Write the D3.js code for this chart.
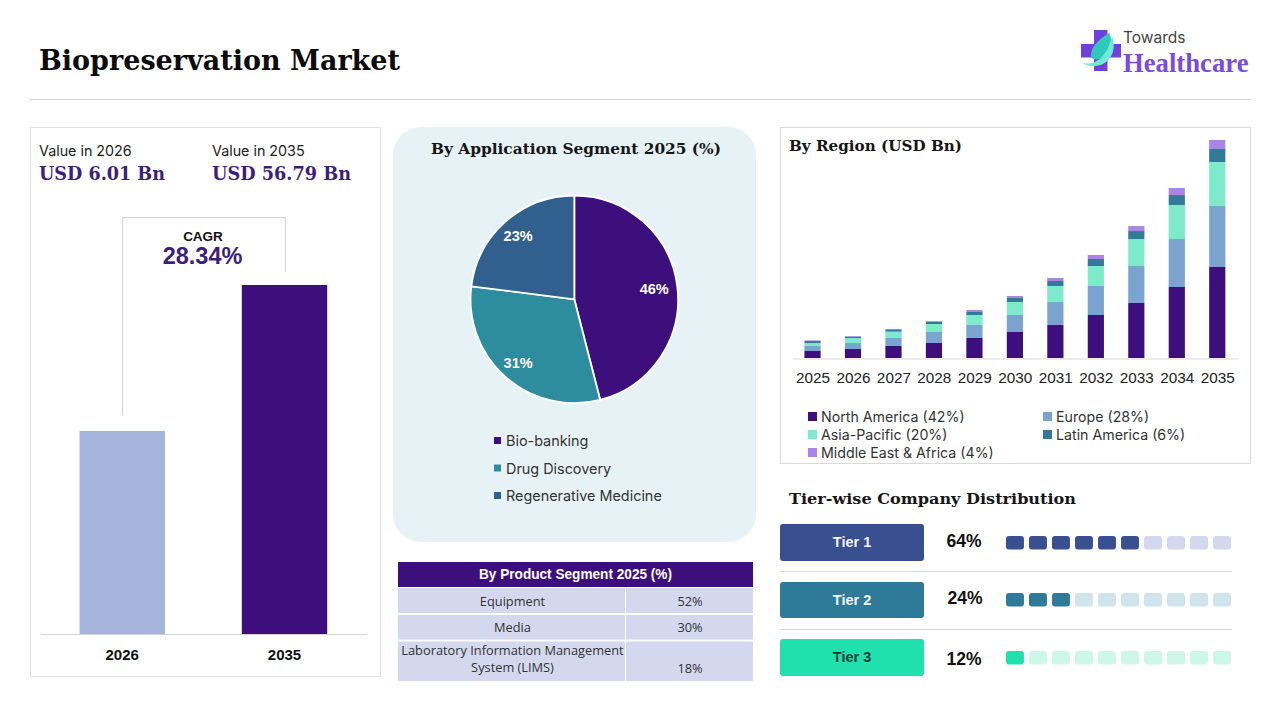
<!DOCTYPE html>
<html><head><meta charset="utf-8">
<script src="https://cdn.jsdelivr.net/npm/d3@7"></script>
<style>html,body{margin:0;padding:0;background:#fff}svg{display:block}</style>
</head><body><svg id="c" width="1280" height="720"></svg>
<script>
const years=["2025","2026","2027","2028","2029","2030","2031","2032","2033","2034","2035"];
const regions=["North America (42%)","Europe (28%)","Asia-Pacific (20%)","Latin America (6%)","Middle East & Africa (4%)"];
const regionColors=["#3D0F7D","#7BA3CF","#7DEBCB","#337A99","#A985E8"];
const northAmerica=[1.82,2.34,3.13,3.91,5.21,6.77,8.59,11.2,14.32,18.49,23.7];
const europe=[1.30,1.56,2.08,2.86,3.39,4.43,5.99,7.55,9.63,12.5,15.88];
const asiaPacific=[0.78,1.30,1.65,2.08,2.60,3.39,4.17,5.21,7.03,8.85,11.46];
const latinAmerica=[0.52,0.35,0.43,0.61,0.78,1.04,1.30,1.82,2.08,2.60,3.39];
const middleEast=[0.17,0.17,0.26,0.17,0.52,0.52,0.78,1.04,1.30,1.82,2.34];
const appLabels=["Bio-banking","Drug Discovery","Regenerative Medicine"];
const appValues=[46,31,23];
const appColors=["#3D0F7D","#2E8C9F","#315F8E"];
const valueYears=["2026","2035"];
const marketValues=[6.01,56.79];
const valueColors=["#A6B3DB","#3D0F7D"];
const productNames=[["Equipment"],["Media"],["Laboratory Information Management","System (LIMS)"]];
const productShares=["52%","30%","18%"];
const tiers=["Tier 1","Tier 2","Tier 3"];
const tierShares=[64,24,12];
const tierFilled=[6,3,1];
const tierColors=["#384F90","#307A99","#20E0AE"];
const tierLight=["#D3D8EE","#D0E4EE","#CDF7E9"];
const tierText=["#F2F4FA","#F2F8FA","#0E3D33"];

const SERIF="'DejaVu Serif',serif", SANS="'Open Sans','Noto Sans',sans-serif", ARIAL="'Liberation Sans',Arial,sans-serif", INTER="'Inter',sans-serif";
const svg=d3.select("#c");
function txt(g,x,y,s,o={}){const t=g.append("text").attr("x",x).attr("y",y).text(s)
 .attr("font-family",o.f||SANS).attr("font-size",o.s||14).attr("font-weight",o.w||400)
 .attr("fill",o.c||"#111").attr("text-anchor",o.a||"start");
 if(o.tl)t.attr("textLength",o.tl).attr("lengthAdjust","spacingAndGlyphs");
 return t;}

// header
txt(svg,39,69.5,"Biopreservation Market",{f:SERIF,s:27,w:700,c:"#0c0c0c",tl:361});
svg.append("line").attr("x1",30).attr("x2",1251).attr("y1",99.5).attr("y2",99.5).attr("stroke","#D6D6D6");
// logo
const logo=svg.append("g").attr("transform","translate(1081,30)");
logo.append("path").attr("fill","#7040DE").attr("d","M13 0H26.5V14H40V27.5H26.5V41H13V27.5H0V14H13Z");
logo.append("path").attr("fill","#2FC9BC").attr("d","M10 27C9 17 19 8 28.5 3C32 12 30 23 21 28C17 30 12 30 10 27Z");
logo.append("path").attr("fill","#6FEBD3").attr("d","M2 33C10 35 25 32 31 6C35 17 32 29 22 34C15 37 7 37 2 33Z");
txt(svg,1123,43,"Towards",{s:15.5,c:"#444",f:INTER});
txt(svg,1123,72,"Healthcare",{f:"'Liberation Serif',serif",s:26.7,w:700,c:"#7A4BE0"});

// left panel
svg.append("rect").attr("x",30.5).attr("y",127.5).attr("width",350).attr("height",549).attr("fill","#fff").attr("stroke","#E3E3E3");
txt(svg,39,156,"Value in 2026",{s:14.3,f:INTER,c:"#222"});
txt(svg,212,156,"Value in 2035",{s:14.3,f:INTER,c:"#222"});
txt(svg,39,180,"USD 6.01 Bn",{f:SERIF,s:17.6,w:700,c:"#3D1E7E",tl:126});
txt(svg,212,180,"USD 56.79 Bn",{f:SERIF,s:17.6,w:700,c:"#3D1E7E",tl:139});
svg.append("path").attr("fill","none").attr("stroke","#D4D4D4").attr("d","M122.5 415V217.5H285.5V272");
txt(svg,203,241,"CAGR",{f:ARIAL,s:13.5,w:700,c:"#111",a:"middle"});
txt(svg,202.5,264,"28.34%",{f:ARIAL,s:23.5,w:700,c:"#3D1E7E",a:"middle"});
const vxc=d3.scalePoint().domain(valueYears).range([122.2,284.5]);
const vh=d3.scaleLinear().domain([6.01,56.79]).range([203,349]);
svg.selectAll(".vb").data(valueYears).join("rect").attr("class","vb")
 .attr("x",d=>vxc(d)-42.7).attr("width",85.4)
 .attr("y",(d,i)=>634-vh(marketValues[i])).attr("height",(d,i)=>vh(marketValues[i]))
 .attr("fill",(d,i)=>valueColors[i]);
svg.append("line").attr("x1",41).attr("x2",367).attr("y1",634.5).attr("y2",634.5).attr("stroke","#D4D4D4");
valueYears.forEach(y=>txt(svg,vxc(y),660,y,{f:ARIAL,s:15,w:700,c:"#111",a:"middle"}));

// application panel
svg.append("rect").attr("x",393).attr("y",127).attr("width",363).attr("height",415).attr("rx",28).attr("fill","#E7F2F6");
txt(svg,431,154,"By Application Segment 2025 (%)",{f:SERIF,s:15.4,w:700,c:"#161616",tl:290});
const pie=d3.pie().sort(null).value(d=>d);
const arc=d3.arc().innerRadius(0).outerRadius(103.8);
const labelR=[80.5,85,85];
const pg=svg.append("g").attr("transform","translate(574.3,299.3)");
const arcs=pie(appValues);
pg.selectAll("path").data(arcs).join("path").attr("d",arc).attr("fill",(d,i)=>appColors[i]).attr("stroke","#fff").attr("stroke-width",1.8);
pg.selectAll("text").data(arcs).join("text").attr("transform",(d,i)=>{const c=d3.arc().innerRadius(labelR[i]).outerRadius(labelR[i]).centroid(d);return `translate(${c})`})
 .attr("text-anchor","middle").attr("dy",5.2).attr("font-family",ARIAL).attr("font-size",14.5).attr("font-weight",700).attr("fill","#fff").text(d=>d.value+"%");
appLabels.forEach((l,i)=>{const y=441+i*27.5;
 svg.append("rect").attr("x",494).attr("y",y-4).attr("width",7).attr("height",7).attr("fill",appColors[i]);
 txt(svg,506,y+5,l,{s:14.4,f:INTER,c:"#333"});});

// product table
svg.append("rect").attr("x",398).attr("y",562).attr("width",355).attr("height",25).attr("fill","#3D0F7D");
txt(svg,479,579,"By Product Segment 2025 (%)",{f:ARIAL,s:14,w:700,c:"#fff",tl:193});
const rowTop=[587,614,640.5], rowH=[26,25.5,40.5], rowBase=[605.5,632,654.5], shareBase=[605.5,632,672.5];
productNames.forEach((n,i)=>{
 svg.append("rect").attr("x",398).attr("y",rowTop[i]+1).attr("width",227).attr("height",rowH[i]-1).attr("fill","#D3D8EE");
 svg.append("rect").attr("x",626).attr("y",rowTop[i]+1).attr("width",127).attr("height",rowH[i]-1).attr("fill","#D3D8EE");
 n.forEach((s,j)=>txt(svg,512.5,rowBase[i]+j*17,s,{f:"'Open Sans',sans-serif",s:12.8,c:"#333",a:"middle"}));
 txt(svg,690,shareBase[i],productShares[i],{f:"'Open Sans',sans-serif",s:12.8,c:"#333",a:"middle"});
});

// region panel
svg.append("rect").attr("x",780.5).attr("y",127.5).attr("width",470).attr("height",336).attr("fill","#fff").attr("stroke","#D9D9D9");
txt(svg,789,151,"By Region (USD Bn)",{f:SERIF,s:15.4,w:700,c:"#161616",tl:173});
const stackRows=years.map((y,i)=>({year:y,0:northAmerica[i],1:europe[i],2:asiaPacific[i],3:latinAmerica[i],4:middleEast[i]}));
const stacked=d3.stack().keys([0,1,2,3,4])(stackRows);
const rx=d3.scaleBand().domain(years).range([792.3,1237.5]).paddingInner(0.6).paddingOuter(0.3);
const ry=d3.scaleLinear().domain([0,56.77]).range([358,140]);
const rg=svg.append("g");
stacked.forEach((s,k)=>rg.append("g").attr("fill",regionColors[k]).selectAll("rect").data(s).join("rect")
 .attr("x",d=>rx(d.data.year)).attr("width",rx.bandwidth()).attr("y",d=>ry(d[1])).attr("height",d=>ry(d[0])-ry(d[1])));
const ax=svg.append("g").attr("transform","translate(0,358.5)").call(d3.axisBottom(rx).tickSize(0).tickPadding(13.5));
ax.select(".domain").attr("stroke","#D9D9D9");
ax.selectAll("text").attr("font-family",ARIAL).attr("font-size",15.3).attr("fill","#222").attr("dx",0.4);
const legX=[808,1043],legY=[417,435,453];
const legPos=[[0,0],[1,0],[0,1],[1,1],[0,2]];
regions.forEach((r,i)=>{const [c,w]=legPos[i];
 svg.append("rect").attr("x",legX[c]).attr("y",legY[w]-5).attr("width",9).attr("height",9).attr("fill",regionColors[i]);
 txt(svg,legX[c]+13,legY[w]+5,r,{s:14.2,f:INTER,c:"#333"});});

// tiers
txt(svg,789,503.5,"Tier-wise Company Distribution",{f:SERIF,s:15.6,w:700,c:"#161616",tl:287});
const cellX=d3.scaleBand().domain(d3.range(10)).range([1006,1231]).paddingInner(0.22).paddingOuter(0);
const tierY=[524,582,639], tierH=[37,36,37], cellY=[536,593,651], pctY=[547,604,665], pctX=[964,965,964];
tiers.forEach((t,i)=>{
 svg.append("rect").attr("x",780).attr("y",tierY[i]).attr("width",144).attr("height",tierH[i]).attr("rx",3).attr("fill",tierColors[i]);
 txt(svg,852,tierY[i]+23,t,{f:ARIAL,s:14.5,w:700,c:tierText[i],a:"middle"});
 txt(svg,pctX[i],pctY[i],tierShares[i]+"%",{f:ARIAL,s:17.5,w:700,c:"#111",a:"middle"});
 svg.selectAll(".t"+i).data(d3.range(10)).join("rect").attr("class","t"+i)
  .attr("x",d=>cellX(d)).attr("width",cellX.bandwidth()).attr("y",cellY[i]).attr("height",13.5).attr("rx",3)
  .attr("fill",d=>d<tierFilled[i]?tierColors[i]:tierLight[i]);
});
svg.selectAll(".sep").data([571.5,629.5]).join("line").attr("x1",780).attr("x2",1232).attr("y1",d=>d).attr("y2",d=>d).attr("stroke","#DADADA");
</script></body></html>
